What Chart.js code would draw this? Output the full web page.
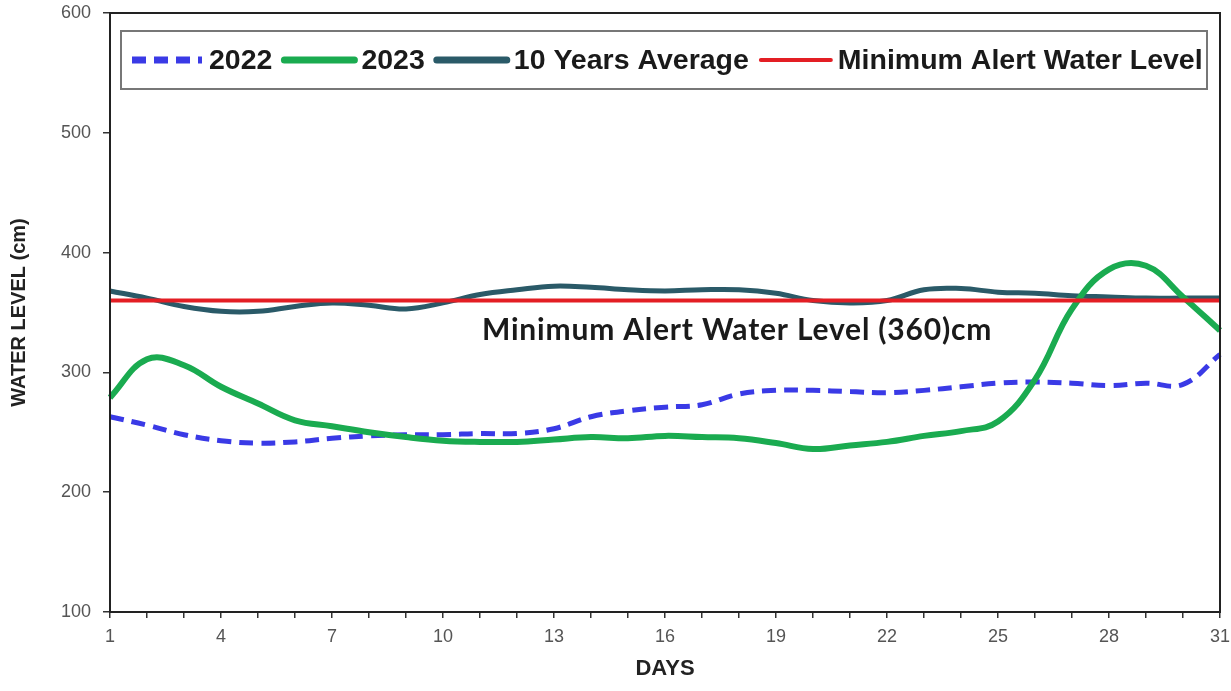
<!DOCTYPE html>
<html>
<head>
<meta charset="utf-8">
<script src="https://cdn.jsdelivr.net/npm/chart.js@4.4.1/dist/chart.umd.min.js"></script>
<style>
  html, body { margin: 0; padding: 0; background: #fff; }
  #wrap { width: 1231px; height: 691px; }
</style>
</head>
<body>
<div id="wrap"><canvas id="chart-canvas"></canvas></div>
<script>
// Daily water level (cm)
const days = ['1','2','3','4','5','6','7','8','9','10','11','12','13','14','15','16',
              '17','18','19','20','21','22','23','24','25','26','27','28','29','30','31'];

const level2022 = [263, 256, 248, 243, 241, 242, 245, 247, 248, 248, 249, 249, 253, 263, 268, 271,
                   273, 282, 285, 285, 284, 283, 285, 288, 291, 292, 291, 289, 291, 290, 315];

const level2023 = [279, 311, 306, 288, 274, 260, 255, 250, 246, 243, 242, 242, 244, 246, 245, 247,
                   246, 245, 241, 236, 239, 242, 247, 251, 259, 294, 353, 386, 389, 363, 335];

const tenYearAvg = [368, 362, 355, 351, 351, 355, 358, 356, 353, 358, 365, 369, 372, 371, 369, 368,
                    369, 369, 366, 360, 358, 360, 369, 370, 367, 366, 364, 363, 362, 362, 362];

const alertLevel = 360;
const alertLine = days.map(() => alertLevel);
const alertLabel = 'Minimum Alert Water Level (360)cm';

const yTicks = [100, 200, 300, 400, 500, 600];

// frame round the plot, the boxed legend inside it and the note under the red line
const frameAndLegend = {
  id: 'frameAndLegend',
  afterDatasetsDraw(chart) {
    const { ctx, chartArea: a, scales } = chart;
    ctx.save();

    ctx.strokeStyle = '#222';
    ctx.lineWidth = 2;
    ctx.strokeRect(a.left, a.top, a.right - a.left, a.bottom - a.top);

    ctx.font = 'bold 30px Lato';
    ctx.letterSpacing = '0.8px';
    ctx.fillStyle = '#1a1a1a';
    ctx.textBaseline = 'alphabetic';
    ctx.fillText(alertLabel, scales.x.getPixelForValue(10) + 2, scales.y.getPixelForValue(alertLevel) + 39);
    ctx.letterSpacing = '0px';

    // legend
    const top = a.top + 18, bottom = a.top + 76;
    ctx.strokeStyle = '#777';
    ctx.lineWidth = 2;
    ctx.strokeRect(a.left + 11, top, a.right - a.left - 24, bottom - top);

    const midY = (top + bottom) / 2;
    let x = a.left + 22;
    ctx.font = 'bold 28.5px "Liberation Sans", Arial';
    ctx.textBaseline = 'middle';
    chart.data.datasets.forEach(ds => {
      ctx.beginPath();
      ctx.setLineDash(ds.borderDash || []);
      ctx.strokeStyle = ds.borderColor;
      ctx.lineWidth = ds.legendWidth;
      ctx.lineCap = ds.borderDash ? 'butt' : 'round';
      ctx.moveTo(x, midY);
      ctx.lineTo(x + 70, midY);
      ctx.stroke();
      ctx.setLineDash([]);
      x += 77;
      ctx.fillStyle = '#1a1a1a';
      ctx.fillText(ds.label, x, midY + 1);
      x += ctx.measureText(ds.label).width + 12;
    });
    ctx.restore();
  }
};

const tickFont = { family: '"Liberation Sans", Arial', size: 18 };

new Chart(document.getElementById('chart-canvas'), {
  type: 'line',
  plugins: [frameAndLegend],
  data: {
    labels: days,
    datasets: [
      {
        label: '2022',
        data: level2022,
        borderColor: '#3a3ae6',
        borderWidth: 5,
        borderDash: [14, 8],
        legendWidth: 7,
        pointRadius: 0,
        tension: 0.4,
        order: 3
      },
      {
        label: '2023',
        data: level2023,
        borderColor: '#1aab50',
        borderWidth: 6,
        legendWidth: 7,
        pointRadius: 0,
        tension: 0.4,
        order: 1
      },
      {
        label: '10 Years Average',
        data: tenYearAvg,
        borderColor: '#2a5a68',
        borderWidth: 5,
        legendWidth: 7,
        pointRadius: 0,
        tension: 0.4,
        order: 2
      },
      {
        label: 'Minimum Alert Water Level',
        data: alertLine,
        borderColor: '#e31e24',
        borderWidth: 4,
        legendWidth: 4,
        pointRadius: 0,
        tension: 0,
        order: 0
      }
    ]
  },
  options: {
    responsive: true,
    maintainAspectRatio: false,
    animation: false,
    events: [],
    layout: { padding: { left: 0, top: 13, right: 11, bottom: 0 } },
    plugins: {
      legend: { display: false },
      tooltip: { enabled: false }
    },
    scales: {
      x: {
        type: 'category',
        offset: false,
        afterFit: scale => {
          scale.height = 79;
          scale.paddingLeft = 0;
          scale.paddingRight = 0;
        },
        border: { color: '#222', width: 2 },
        grid: { drawOnChartArea: false, tickLength: 6, color: '#333', lineWidth: 1.5 },
        ticks: {
          autoSkip: false,
          maxRotation: 0,
          padding: 8,
          color: '#555',
          font: tickFont,
          callback: (val, i) => (i % 3 === 0 ? days[i] : '')
        },
        title: {
          display: true, text: 'DAYS', color: '#222',
          font: { family: '"Liberation Sans", Arial', size: 22, weight: 'bold' },
          padding: { top: 0, bottom: 9 }
        }
      },
      y: {
        min: 100,
        max: 600,
        afterFit: scale => {
          scale.width = 110;
          scale.paddingTop = 0;
          scale.paddingBottom = 0;
        },
        afterBuildTicks: axis => { axis.ticks = yTicks.map(v => ({ value: v })); },
        border: { color: '#222', width: 2 },
        grid: { drawOnChartArea: false, tickLength: 7, color: '#333', lineWidth: 1.5 },
        ticks: { padding: 12, color: '#555', font: tickFont },
        title: {
          display: true, text: 'WATER LEVEL (cm)', color: '#222',
          font: { family: '"Liberation Sans", Arial', size: 20, weight: 'bold' },
          padding: { top: 7, bottom: 0 }
        }
      }
    }
  }
});
</script>
</body>
</html>
